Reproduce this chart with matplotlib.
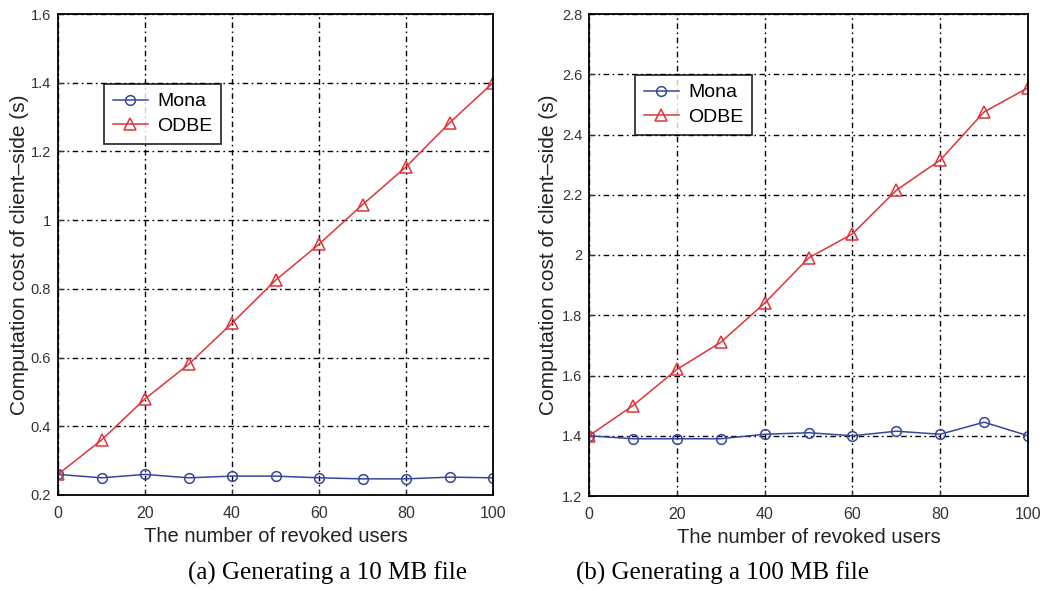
import numpy as np
import matplotlib.pyplot as plt

# revoked users on the x axis
users = [0, 10, 20, 30, 40, 50, 60, 70, 80, 90, 100]

# (a) 10 MB file
mona_10mb = [0.26, 0.25, 0.26, 0.25, 0.255, 0.255, 0.25, 0.247, 0.247, 0.252, 0.25]
odbe_10mb = [0.26, 0.36, 0.48, 0.58, 0.70, 0.825, 0.93, 1.045, 1.155, 1.283, 1.40]

# (b) 100 MB file
mona_100mb = [1.40, 1.39, 1.39, 1.39, 1.405, 1.41, 1.40, 1.415, 1.405, 1.445, 1.40]
odbe_100mb = [1.40, 1.50, 1.62, 1.71, 1.84, 1.99, 2.07, 2.215, 2.315, 2.475, 2.555]

xticks = [0, 20, 40, 60, 80, 100]
yticks_a = [0.2, 0.4, 0.6, 0.8, 1.0, 1.2, 1.4, 1.6]
ytick_labels_a = ["0.2", "0.4", "0.6", "0.8", "1", "1.2", "1.4", "1.6"]
yticks_b = [1.2, 1.4, 1.6, 1.8, 2.0, 2.2, 2.4, 2.6, 2.8]
ytick_labels_b = ["1.2", "1.4", "1.6", "1.8", "2", "2.2", "2.4", "2.6", "2.8"]

captions = ["(a) Generating a 10 MB file", "(b) Generating a 100 MB file"]

plt.rcParams['font.family'] = ['Liberation Sans', 'DejaVu Sans']

fig = plt.figure(figsize=(10.46, 5.91), dpi=100)
W, H = 1046, 591

# axes boxes in pixels: left, top, right, bottom
boxes = [(58, 14, 493, 495), (589, 14, 1028, 496)]
legend_pos = [(104, 84), (635, 75)]
ylabel_x = [20, 549]
panels = [
    (mona_10mb, odbe_10mb, yticks_a, ytick_labels_a),
    (mona_100mb, odbe_100mb, yticks_b, ytick_labels_b),
]

blue = '#36479a'
red = '#e0343a'

for i, (mona, odbe, yt, ytl) in enumerate(panels):
    l, t, r, b = boxes[i]
    ax = fig.add_axes([l / W, 1 - b / H, (r - l) / W, (b - t) / H])
    ax.plot(users, mona, color=blue, marker='o', markersize=7,
            markerfacecolor='none', markeredgewidth=1.1, linewidth=1.1, label='Mona')
    ax.plot(users, odbe, color=red, marker='^', markersize=8,
            markerfacecolor='none', markeredgewidth=1.1, linewidth=1.1, label='ODBE')
    ax.set_xlim(0, 100)
    ax.set_ylim(yt[0], yt[-1])
    ax.set_xticks(xticks)
    ax.set_yticks(yt)
    ax.set_yticklabels(ytl)
    ax.tick_params(direction='in', length=4, labelsize=10.5, colors='#333333', pad=5)
    ax.tick_params(axis='x', labelsize=11.5, pad=8)
    ax.grid(True, color='black', linestyle=(0, (4, 2.5, 1.2, 2.5)), linewidth=1.0)
    for sp in ax.spines.values():
        sp.set_linewidth(1.3)
    ax.set_xlabel('The number of revoked users', fontsize=14.5, labelpad=4,
                  color='#222222')
    ax.set_ylabel('Computation cost of client\u2013side (s)', fontsize=15,
                  color='#222222', va='center')
    ax.yaxis.set_label_coords((ylabel_x[i] - l) / (r - l), 0.5)
    lx, ly = legend_pos[i]
    leg = ax.legend(loc='upper left',
                    bbox_to_anchor=((lx - l) / (r - l), 1 - (ly - t) / (b - t)),
                    fontsize=14, frameon=True, fancybox=False, edgecolor='black',
                    handlelength=1.8, handletextpad=0.5, borderpad=0.45,
                    labelspacing=0.35, borderaxespad=0)
    leg.get_frame().set_linewidth(1.3)

fig.text(328 / W, 1 - 573 / H, captions[0], fontsize=18, family='Liberation Serif',
         ha='center', va='center')
fig.text(723 / W, 1 - 573 / H, captions[1], fontsize=18, family='Liberation Serif',
         ha='center', va='center')

fig.savefig('out.png', dpi=100)
